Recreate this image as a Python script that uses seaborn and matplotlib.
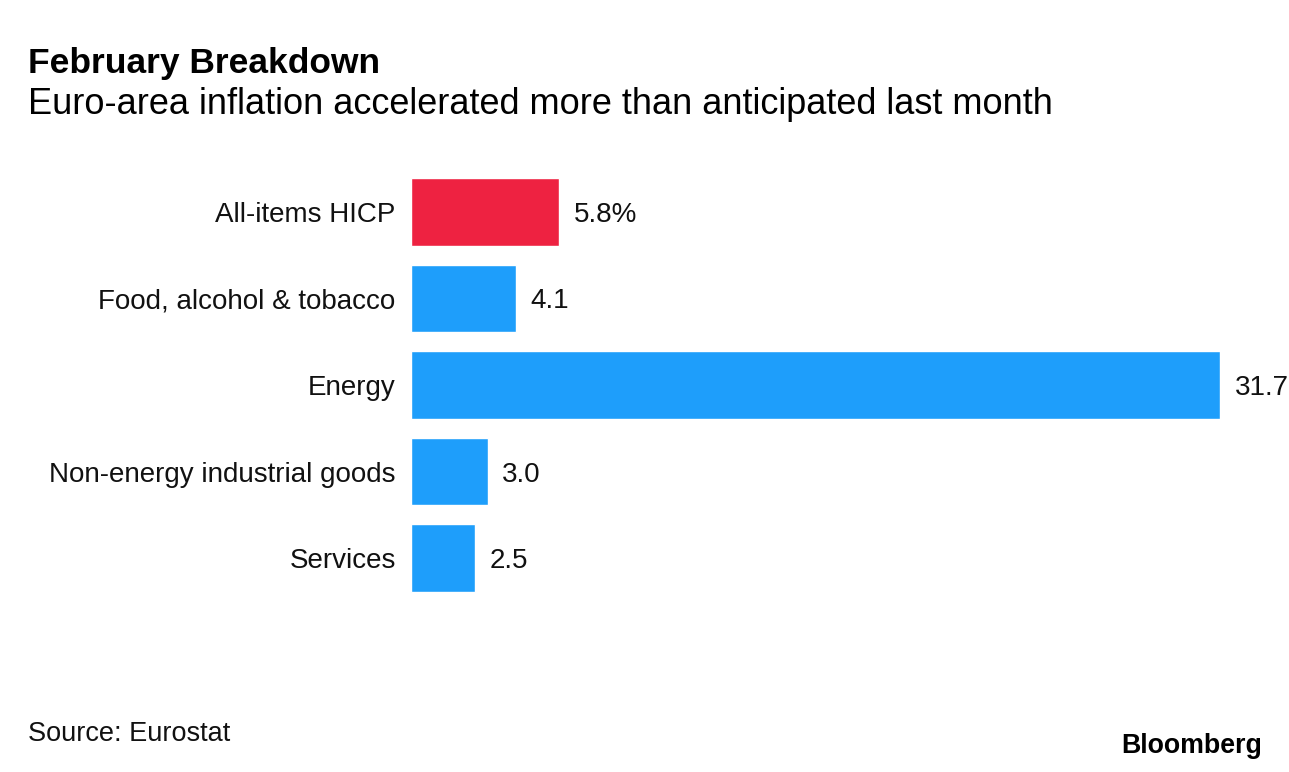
import numpy as np
import pandas as pd
import seaborn as sns
from matplotlib import pyplot as plt

# data
categories = ["All-items HICP", "Food, alcohol & tobacco", "Energy",
              "Non-energy industrial goods", "Services"]
values = [5.8, 4.1, 31.7, 3.0, 2.5]
value_labels = ["5.8%", "4.1", "31.7", "3.0", "2.5"]

RED = "#EE2241"
BLUE = "#1E9EFB"

sns.set_style("white")
plt.rcParams['font.family'] = ['Liberation Sans', 'DejaVu Sans']

df = pd.DataFrame({"category": categories, "value": values})
palette = [RED] + [BLUE] * (len(categories) - 1)

W, H = 1289, 772
fig = plt.figure(figsize=(W / 100, H / 100), dpi=100)

# axes placed in pixel terms
left, right = 411, 1220
top, bottom = 168.75, 601.25
ax = fig.add_axes([left / W, 1 - bottom / H, (right - left) / W, (bottom - top) / H])

sns.barplot(data=df, y="category", x="value", hue="category", palette=palette,
            legend=False, orient="h", width=0.775, saturation=1, ax=ax)

ax.set_xlim(0, 31.7)
ax.set_ylim(len(categories) - 0.5, -0.5)
ax.set_xlabel("")
ax.set_ylabel("")
ax.set_xticks([])
ax.tick_params(axis="y", length=0, pad=11, labelsize=20, labelcolor="#111111")
for s in ax.spines.values():
    s.set_visible(False)

for i, (v, lab) in enumerate(zip(values, value_labels)):
    ax.annotate(lab, (v, i), xytext=(10.5, 0), textcoords="offset points",
                ha="left", va="center_baseline", fontsize=20, color="#111111",
                annotation_clip=False)

fig.text(28 / W, 1 - 63 / H, "February Breakdown", fontsize=25.5, fontweight="bold",
         ha="left", va="center", color="#000000")
fig.text(28 / W, 1 - 104 / H, "Euro-area inflation accelerated more than anticipated last month",
         fontsize=26, ha="left", va="center", color="#000000")
fig.text(28 / W, 1 - 734 / H, "Source: Eurostat", fontsize=19.5,
         ha="left", va="center", color="#111111")
fig.text(1262 / W, 1 - 746 / H, "Bloomberg", fontsize=19.3, fontweight="bold",
         ha="right", va="center", color="#000000")

fig.savefig("out.png", dpi=100, facecolor="white")
